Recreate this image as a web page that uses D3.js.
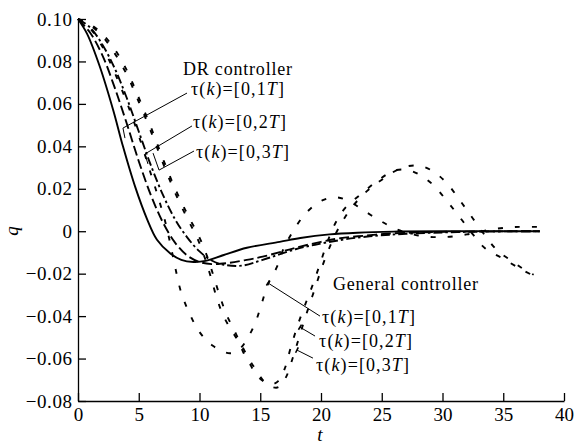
<!DOCTYPE html>
<html>
<head>
<meta charset="utf-8">
<script src="https://cdn.jsdelivr.net/npm/d3@7"></script>
<style>
  body { margin: 0; background: #fff; }
  svg text { font-family: "Liberation Serif", "DejaVu Serif", "Times New Roman", Times, serif !important; fill: #000; }
</style>
</head>
<body>
<svg id="chart" width="574" height="445"></svg>
<script>
// tick values
const xTicks = [0, 5, 10, 15, 20, 25, 30, 35, 40];
const yTicks = [-0.08, -0.06, -0.04, -0.02, 0, 0.02, 0.04, 0.06, 0.08, 0.10];

// DR controller, tau = [0,1T] / [0,2T] / [0,3T]   ([t, q])
const dr1 = [[0,0.1],[0.75,0.093],[1.8,0.0775],[2.9,0.057],[3.7,0.04],[4.7,0.021],[5.7,0.0055],[6.5,-0.004],[7.6,-0.0105],[8.5,-0.0135],[9.5,-0.0145],[10.5,-0.014],[12,-0.0112],[13.9,-0.0078],[16.6,-0.005],[18.3,-0.0032],[20.7,-0.0015],[23,-0.0007],[26,-0.0002],[30,0],[38,0]];
const dr2 = [[0,0.1],[1,0.0935],[2,0.083],[3,0.068],[4,0.051],[5,0.033],[6,0.017],[7,0.004],[8,-0.0055],[9,-0.0115],[10,-0.0145],[11,-0.0155],[12.3,-0.015],[13.6,-0.0138],[15.2,-0.012],[17.9,-0.0078],[20,-0.005],[21.6,-0.0033],[23.8,-0.002],[26,-0.001],[30,-0.0003],[38,0]];
const dr3 = [[0,0.1],[1,0.096],[2,0.088],[3,0.077],[4,0.063],[5,0.047],[6,0.031],[7,0.017],[8,0.0055],[9,-0.003],[10,-0.0095],[11,-0.0138],[12,-0.0158],[13.5,-0.0162],[15.2,-0.0135],[17.9,-0.0085],[20,-0.0058],[22,-0.0038],[24,-0.0024],[27,-0.0012],[32,-0.0003],[38,0]];

// General controller
const gen1 = [[0,0.1],[1,0.0955],[2,0.087],[3,0.075],[4,0.061],[5,0.045],[6,0.027],[6.6,0.016],[7.2,0.004],[7.6,-0.006],[8,-0.017],[8.5,-0.029],[9.2,-0.039],[10,-0.0475],[11.1,-0.054],[12.5,-0.0575],[13.3,-0.0555],[13.9,-0.051],[14.6,-0.043],[15.1,-0.0345],[15.6,-0.0255],[16.4,-0.0165],[16.9,-0.0085],[17.7,0],[18.8,0.0088],[20.1,0.0145],[21.2,0.016],[22.2,0.0145],[23.2,0.011],[24.7,0.0055],[26.2,0.001],[28,-0.002],[30,-0.0028],[32,-0.0015],[34,0.0008],[36,0.002],[38,0.002]];
const gen2 = [[0,0.1],[1,0.097],[2,0.092],[3,0.084],[4,0.074],[5,0.061],[6,0.047],[7,0.032],[8,0.018],[9,0.006],[9.8,-0.003],[10.5,-0.0136],[10.9,-0.021],[11.4,-0.031],[11.9,-0.039],[12.5,-0.0455],[13.1,-0.051],[13.6,-0.057],[14.1,-0.062],[14.6,-0.067],[15.2,-0.0705],[15.9,-0.0722],[16.5,-0.0705],[17,-0.065],[17.5,-0.055],[18.1,-0.044],[18.8,-0.033],[19.4,-0.024],[20,-0.014],[20.6,-0.004],[21.2,0.004],[22,0.011],[23.4,0.018],[24.7,0.024],[26,0.0285],[27,0.029],[28,0.027],[29.2,0.022],[30.4,0.014],[31.5,0.006],[32.5,-0.0015],[33.5,-0.008],[35,-0.013],[36.5,-0.018],[37.5,-0.021]];
const gen3 = [[0,0.1],[1,0.0975],[2,0.093],[3,0.086],[4,0.076],[5,0.063],[6,0.049],[7,0.034],[8,0.02],[9,0.008],[10,-0.003],[10.7,-0.013],[11.2,-0.022],[11.7,-0.031],[12.2,-0.039],[12.8,-0.046],[13.4,-0.053],[14,-0.0595],[14.6,-0.065],[15.2,-0.07],[15.9,-0.0732],[16.5,-0.0735],[17.1,-0.069],[17.6,-0.061],[18.2,-0.05],[18.8,-0.039],[19.5,-0.027],[20.2,-0.015],[20.9,-0.005],[21.6,0.003],[22.5,0.011],[23.8,0.019],[25.2,0.025],[26.5,0.0295],[27.8,0.031],[29,0.029],[30.3,0.023],[31.5,0.014],[32.5,0.006],[33.5,-0.002],[34.5,-0.009],[35.7,-0.014],[36.7,-0.018],[37.5,-0.0205]];

const series = [
  { values: dr1, dash: null },
  { values: dr2, dash: "10,4" },
  { values: dr3, dash: "9,3,2.5,3" },
  { values: gen1, dash: "5,12" },
  { values: gen2, dash: "5,12" },
  { values: gen3, dash: "5,12" }
];

// annotation labels and leader lines, in data units
const groupTitles = [
  { text: "DR controller", at: [8.64, 0.0736] },
  { text: "General controller", at: [20.99, -0.0277] }
];
const tauLabels = [
  { n: 1, at: [9.3, 0.064] }, { n: 2, at: [9.47, 0.0486] }, { n: 3, at: [9.71, 0.0345] },
  { n: 1, at: [20.08, -0.0433] }, { n: 2, at: [19.84, -0.0546] }, { n: 3, at: [19.59, -0.0659] }
];
const leaders = [
  { from: [8.97, 0.0651], to: [3.70, 0.0486], tick: [2, 10] },
  { from: [9.38, 0.0496], to: [5.51, 0.0364], tick: [3, 10] },
  { from: [9.55, 0.0378], to: [6.67, 0.0288], tick: [-6, -17] },
  { from: [19.92, -0.04], to: [15.64, -0.0244], tick: null },
  { from: [19.51, -0.0494], to: [18.27, -0.0452], tick: null },
  { from: [19.34, -0.0598], to: [18.02, -0.056], tick: null }
];

const FONT = "Liberation Serif, DejaVu Serif, serif";
const svg = d3.select("#chart");
const x = d3.scaleLinear().domain([0, 40]).range([78, 564]);
const y = d3.scaleLinear().domain([-0.08, 0.1]).range([401, 19]);

// axes with inward ticks
const fmt = d => d === 0 ? "0" : d3.format(".2f")(d);
svg.append("g")
    .attr("transform", "translate(0,401)")
    .call(d3.axisBottom(x).tickValues(xTicks).tickSizeInner(-8).tickSizeOuter(0).tickPadding(7))
    .attr("font-family", FONT).attr("font-size", 19);
svg.append("g")
    .attr("transform", "translate(78,0)")
    .call(d3.axisLeft(y).tickValues(yTicks).tickFormat(fmt).tickSizeInner(-8).tickSizeOuter(0).tickPadding(6))
    .attr("font-family", FONT).attr("font-size", 19)
    .call(g => g.selectAll("text").attr("letter-spacing", "0.6px").attr("dx", "0.6px"));
svg.selectAll(".domain, .tick line").attr("stroke", "#000").attr("stroke-width", 1.3);

// axis titles
svg.append("text")
    .attr("transform", "translate(18,231) rotate(-90)")
    .attr("text-anchor", "middle")
    .attr("font-family", FONT)
    .attr("font-size", "19px")
    .attr("font-style", "italic")
    .text("q");
svg.append("text")
    .attr("x", 320).attr("y", 441)
    .attr("text-anchor", "middle")
    .attr("font-family", FONT)
    .attr("font-size", "19px")
    .attr("font-style", "italic")
    .text("t");

// curves
const line = d3.line()
    .x(d => x(d[0]))
    .y(d => y(d[1]))
    .curve(d3.curveCatmullRom.alpha(0.5));

svg.append("g").selectAll("path")
    .data(series)
    .join("path")
    .attr("d", d => line(d.values))
    .attr("fill", "none")
    .attr("stroke", "#000")
    .attr("stroke-width", 1.9)
    .attr("stroke-dasharray", d => d.dash);

// leader lines
const lg = svg.append("g").attr("stroke", "#000").attr("stroke-width", 1);
leaders.forEach(function (d) {
    const x1 = x(d.from[0]), y1 = y(d.from[1]);
    const x2 = x(d.to[0]), y2 = y(d.to[1]);
    lg.append("line").attr("x1", x1).attr("y1", y1).attr("x2", x2).attr("y2", y2);
    if (d.tick) {
        lg.append("line").attr("x1", x2).attr("y1", y2)
            .attr("x2", x2 + d.tick[0]).attr("y2", y2 + d.tick[1]);
    } else {
        // small perpendicular cap at the curve end
        const len = Math.hypot(x1 - x2, y1 - y2);
        const px = -(y1 - y2) / len * 3, py = (x1 - x2) / len * 3;
        lg.append("line").attr("x1", x2 - px).attr("y1", y2 - py)
            .attr("x2", x2 + px).attr("y2", y2 + py).attr("stroke-width", 1.6);
    }
});

// labels
svg.selectAll(".grp")
    .data(groupTitles)
    .join("text")
    .attr("class", "grp")
    .attr("x", d => x(d.at[0]))
    .attr("y", d => y(d.at[1]))
    .attr("font-family", FONT)
    .attr("font-size", "18px")
    .attr("letter-spacing", "0.8px")
    .text(d => d.text);

const tau = svg.selectAll(".tau")
    .data(tauLabels)
    .join("text")
    .attr("class", "tau")
    .attr("x", d => x(d.at[0]))
    .attr("y", d => y(d.at[1]))
    .attr("font-family", FONT)
    .attr("font-size", "18px")
    .attr("letter-spacing", "1.1px");
tau.append("tspan").text("τ(");
tau.append("tspan").attr("font-style", "italic").text("k");
tau.append("tspan").text(d => ")=[0," + d.n);
tau.append("tspan").attr("font-style", "italic").text("T");
tau.append("tspan").text("]");
</script>
</body>
</html>
